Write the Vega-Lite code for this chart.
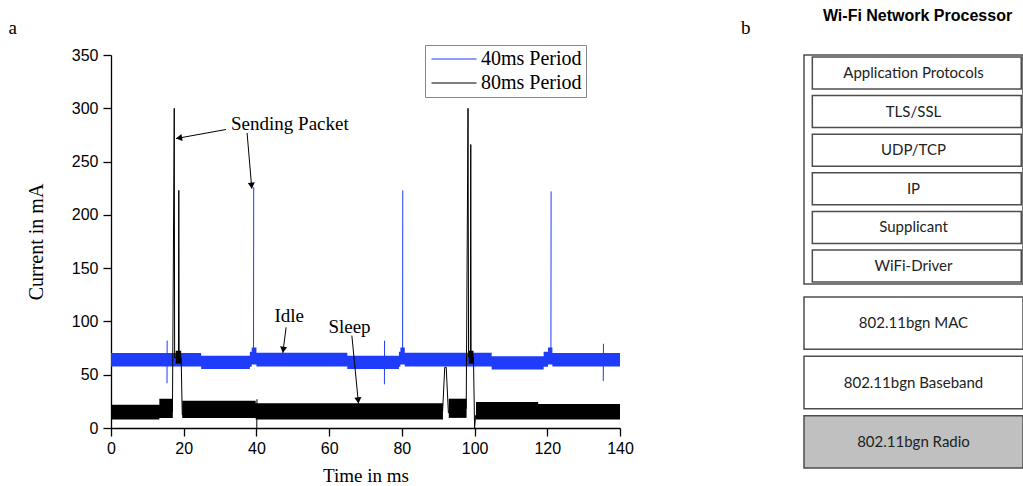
{
  "$schema": "https://vega.github.io/schema/vega-lite/v6.json",
  "background": "white",
  "padding": {"left": 8, "top": 7, "right": 0, "bottom": 0},
  "autosize": {"type": "pad"},
  "bounds": "flush",
  "spacing": 184,
  "config": {
    "view": {"stroke": null},
    "axis": {
      "labelFont": "Liberation Sans", "labelFontSize": 16, "labelColor": "black",
      "titleFont": "Liberation Serif", "titleFontSize": 20, "titleFontWeight": "normal", "titleColor": "black",
      "domainColor": "black", "domainWidth": 1.3, "tickColor": "black", "tickWidth": 1.3,
      "grid": false, "labelFlush": false, "labelOverlap": false, "labelPadding": 4, "tickSize": 8
    }
  },
  "datasets": {
    "blueTrace": [
      {"series": "40ms Period", "seg": "b1", "t": 15.4, "v": 42}, {"series": "40ms Period", "seg": "b1", "t": 15.45, "v": 82},
      {"series": "40ms Period", "seg": "b2", "t": 39.2, "v": 70}, {"series": "40ms Period", "seg": "b2", "t": 39.25, "v": 226},
      {"series": "40ms Period", "seg": "b3", "t": 75.2, "v": 41}, {"series": "40ms Period", "seg": "b3", "t": 75.25, "v": 82},
      {"series": "40ms Period", "seg": "b4", "t": 80.2, "v": 70}, {"series": "40ms Period", "seg": "b4", "t": 80.25, "v": 223},
      {"series": "40ms Period", "seg": "b5", "t": 121.0, "v": 70}, {"series": "40ms Period", "seg": "b5", "t": 121.05, "v": 222},
      {"series": "40ms Period", "seg": "b6", "t": 135.4, "v": 44}, {"series": "40ms Period", "seg": "b6", "t": 135.45, "v": 79}
    ],
    "blueBand": [
      {"series": "40ms Period", "t": 0, "lo": 57.8, "hi": 70.3},
      {"series": "40ms Period", "t": 24.8, "lo": 55.3, "hi": 67.8},
      {"series": "40ms Period", "t": 38.2, "lo": 57.5, "hi": 71.5},
      {"series": "40ms Period", "t": 38.7, "lo": 59.5, "hi": 75.5},
      {"series": "40ms Period", "t": 40, "lo": 57.8, "hi": 70.5},
      {"series": "40ms Period", "t": 65, "lo": 55.3, "hi": 67.8},
      {"series": "40ms Period", "t": 79.2, "lo": 57.5, "hi": 71.5},
      {"series": "40ms Period", "t": 79.6, "lo": 59.5, "hi": 75.5},
      {"series": "40ms Period", "t": 80.8, "lo": 57.8, "hi": 70.5},
      {"series": "40ms Period", "t": 104.7, "lo": 55, "hi": 67.3},
      {"series": "40ms Period", "t": 119, "lo": 57.5, "hi": 71.5},
      {"series": "40ms Period", "t": 120.2, "lo": 59.5, "hi": 75.5},
      {"series": "40ms Period", "t": 121.4, "lo": 57.8, "hi": 70.3},
      {"series": "40ms Period", "t": 140, "lo": 57.8, "hi": 70.3}
    ],
    "blackBand": [
      {"series": "80ms Period", "seg": "k1", "t": 0, "lo": 8, "hi": 21.8},
      {"series": "80ms Period", "seg": "k1", "t": 13.3, "lo": 9.5, "hi": 27.5},
      {"series": "80ms Period", "seg": "k1", "t": 17.0, "lo": 9.5, "hi": 27.5},
      {"series": "80ms Period", "seg": "k2", "t": 17.8, "lo": 60.5, "hi": 72.5},
      {"series": "80ms Period", "seg": "k2", "t": 19.3, "lo": 60.5, "hi": 72.5},
      {"series": "80ms Period", "seg": "k3", "t": 19.6, "lo": 9.5, "hi": 25.5},
      {"series": "80ms Period", "seg": "k3", "t": 39.8, "lo": 8, "hi": 23.2},
      {"series": "80ms Period", "seg": "k3", "t": 91.3, "lo": 8, "hi": 23.2},
      {"series": "80ms Period", "seg": "k4", "t": 92.9, "lo": 9.5, "hi": 27.5},
      {"series": "80ms Period", "seg": "k4", "t": 97.8, "lo": 9.5, "hi": 27.5},
      {"series": "80ms Period", "seg": "k5", "t": 98.4, "lo": 60.5, "hi": 72.5},
      {"series": "80ms Period", "seg": "k5", "t": 99.7, "lo": 60.5, "hi": 72.5},
      {"series": "80ms Period", "seg": "k6", "t": 100.4, "lo": 8, "hi": 24.5},
      {"series": "80ms Period", "seg": "k6", "t": 117.5, "lo": 8, "hi": 22.5},
      {"series": "80ms Period", "seg": "k6", "t": 140, "lo": 8, "hi": 22.5}
    ],
    "blackTrace": [
      {"series": "80ms Period", "seg": "s1", "t": 16.9, "v": 15},
      {"series": "80ms Period", "seg": "s1", "t": 17.4, "v": 300},
      {"series": "80ms Period", "seg": "s1", "t": 17.5, "v": 66},
      {"series": "80ms Period", "seg": "s1", "t": 18.55, "v": 66},
      {"series": "80ms Period", "seg": "s1", "t": 18.65, "v": 223},
      {"series": "80ms Period", "seg": "s1", "t": 18.75, "v": 66},
      {"series": "80ms Period", "seg": "s1", "t": 19.3, "v": 66},
      {"series": "80ms Period", "seg": "s1", "t": 19.6, "v": 12},
      {"series": "80ms Period", "seg": "s2", "t": 40.1, "v": 0},
      {"series": "80ms Period", "seg": "s2", "t": 40.15, "v": 27},
      {"series": "80ms Period", "seg": "s3", "t": 91.2, "v": 15},
      {"series": "80ms Period", "seg": "s3", "t": 91.8, "v": 57},
      {"series": "80ms Period", "seg": "s3", "t": 92.2, "v": 57},
      {"series": "80ms Period", "seg": "s3", "t": 92.8, "v": 14},
      {"series": "80ms Period", "seg": "s4", "t": 97.7, "v": 18},
      {"series": "80ms Period", "seg": "s4", "t": 98.2, "v": 300},
      {"series": "80ms Period", "seg": "s4", "t": 98.35, "v": 66},
      {"series": "80ms Period", "seg": "s4", "t": 98.85, "v": 66},
      {"series": "80ms Period", "seg": "s4", "t": 98.95, "v": 266},
      {"series": "80ms Period", "seg": "s4", "t": 99.05, "v": 66},
      {"series": "80ms Period", "seg": "s4", "t": 99.7, "v": 66},
      {"series": "80ms Period", "seg": "s4", "t": 100.0, "v": 0},
      {"series": "80ms Period", "seg": "s4", "t": 100.3, "v": 12}
    ],
    "arrows": [
      {"id": "A1", "t1": 31.65, "v1": 280.1, "t2": 17.89, "v2": 271.6},
      {"id": "A2", "t1": 37.43, "v1": 276.9, "t2": 38.73, "v2": 224.6},
      {"id": "A3", "t1": 48.17, "v1": 94.5, "t2": 47.26, "v2": 70.5},
      {"id": "A4", "t1": 66.25, "v1": 86.7, "t2": 68.07, "v2": 23}
    ],
    "heads": [
      {"id": "A1", "t": 18.7, "v": 272.1},
      {"id": "A2", "t": 38.66, "v": 227.4},
      {"id": "A3", "t": 47.37, "v": 73.4},
      {"id": "A4", "t": 67.99, "v": 25.8}
    ],
    "notes": [
      {"label": "Sending Packet", "t": 49.2, "v": 285.5},
      {"label": "Idle", "t": 49.0, "v": 105},
      {"label": "Sleep", "t": 65.6, "v": 94.5}
    ]
  },
  "hconcat": [
    {
      "width": 509,
      "height": 373,
      "layer": [
        {
          "data": {"name": "blueTrace"},
          "mark": {"type": "line", "strokeWidth": 1},
          "encoding": {
            "x": {"field": "t", "type": "quantitative", "title": "Time in ms",
              "scale": {"domain": [0, 140], "nice": false, "zero": false},
              "axis": {"values": [0, 10, 20, 30, 40, 50, 60, 70, 80, 90, 100, 110, 120, 130, 140],
                "labelExpr": "datum.value % 20 === 0 ? datum.label : ''", "titlePadding": 10, "titleFontSize": 19}},
            "y": {"field": "v", "type": "quantitative", "title": "Current in mA",
              "scale": {"domain": [0, 350], "nice": false},
              "axis": {"values": [0, 25, 50, 75, 100, 125, 150, 175, 200, 225, 250, 275, 300, 325, 350],
                "labelExpr": "datum.value % 50 === 0 ? datum.label : ''", "labelPadding": 5, "titlePadding": 25}},
            "color": {"field": "series", "type": "nominal",
              "scale": {"domain": ["40ms Period", "80ms Period"], "range": ["#1e3cfa", "#000000"]},
              "legend": {"title": null, "orient": "none", "legendX": 314, "legendY": -10, "direction": "vertical",
                "symbolType": "M-3,0H3", "symbolSize": 225, "symbolStrokeWidth": 1, "symbolOffset": 15,
                "labelOffset": 17, "labelFont": "Liberation Serif", "labelFontSize": 20, "labelColor": "black",
                "padding": 4, "rowPadding": 4, "strokeColor": "#888888", "fillColor": "white", "labelLimit": 300}},
            "detail": {"field": "seg"}
          }
        },
        {
          "data": {"name": "blueBand"},
          "mark": {"type": "area", "interpolate": "step-after"},
          "encoding": {
            "x": {"field": "t", "type": "quantitative", "title": "Time in ms"},
            "y": {"field": "lo", "type": "quantitative", "title": "Current in mA"},
            "y2": {"field": "hi"},
            "color": {"field": "series", "type": "nominal"}
          }
        },
        {
          "data": {"name": "blackBand"},
          "mark": {"type": "area", "interpolate": "step-after"},
          "encoding": {
            "x": {"field": "t", "type": "quantitative", "title": "Time in ms"},
            "y": {"field": "lo", "type": "quantitative", "title": "Current in mA"},
            "y2": {"field": "hi"},
            "color": {"field": "series", "type": "nominal"},
            "detail": {"field": "seg"}
          }
        },
        {
          "data": {"name": "blackTrace"},
          "mark": {"type": "line", "strokeWidth": 1},
          "encoding": {
            "x": {"field": "t", "type": "quantitative", "title": "Time in ms"},
            "y": {"field": "v", "type": "quantitative", "title": "Current in mA"},
            "color": {"field": "series", "type": "nominal"},
            "detail": {"field": "seg"}
          }
        },
        {
          "data": {"name": "arrows"},
          "mark": {"type": "rule", "color": "black", "strokeWidth": 1},
          "encoding": {
            "x": {"field": "t1", "type": "quantitative", "title": "Time in ms"},
            "y": {"field": "v1", "type": "quantitative", "title": "Current in mA"},
            "x2": {"field": "t2"},
            "y2": {"field": "v2"}
          }
        },
        {
          "data": {"name": "heads"},
          "transform": [{"filter": "datum.id === 'A1'"}],
          "mark": {"type": "point", "shape": "triangle-up", "filled": true, "color": "black", "opacity": 1, "size": 50, "angle": 260},
          "encoding": {
            "x": {"field": "t", "type": "quantitative", "title": "Time in ms"},
            "y": {"field": "v", "type": "quantitative", "title": "Current in mA"}
          }
        },
        {
          "data": {"name": "heads"},
          "transform": [{"filter": "datum.id === 'A2'"}],
          "mark": {"type": "point", "shape": "triangle-up", "filled": true, "color": "black", "opacity": 1, "size": 50, "angle": 175},
          "encoding": {
            "x": {"field": "t", "type": "quantitative", "title": "Time in ms"},
            "y": {"field": "v", "type": "quantitative", "title": "Current in mA"}
          }
        },
        {
          "data": {"name": "heads"},
          "transform": [{"filter": "datum.id === 'A3'"}],
          "mark": {"type": "point", "shape": "triangle-up", "filled": true, "color": "black", "opacity": 1, "size": 50, "angle": 187},
          "encoding": {
            "x": {"field": "t", "type": "quantitative", "title": "Time in ms"},
            "y": {"field": "v", "type": "quantitative", "title": "Current in mA"}
          }
        },
        {
          "data": {"name": "heads"},
          "transform": [{"filter": "datum.id === 'A4'"}],
          "mark": {"type": "point", "shape": "triangle-up", "filled": true, "color": "black", "opacity": 1, "size": 50, "angle": 174},
          "encoding": {
            "x": {"field": "t", "type": "quantitative", "title": "Time in ms"},
            "y": {"field": "v", "type": "quantitative", "title": "Current in mA"}
          }
        },
        {
          "data": {"name": "notes"},
          "mark": {"type": "text", "font": "Liberation Serif", "fontSize": 19, "color": "black", "align": "center", "baseline": "middle"},
          "encoding": {
            "x": {"field": "t", "type": "quantitative", "title": "Time in ms"},
            "y": {"field": "v", "type": "quantitative", "title": "Current in mA"},
            "text": {"field": "label"}
          }
        },
        {
          "data": {"values": [{"label": "a"}]},
          "mark": {"type": "text", "font": "Liberation Serif", "fontSize": 19, "color": "black", "align": "center", "baseline": "middle"},
          "encoding": {
            "x": {"datum": -27, "type": "quantitative"},
            "y": {"datum": 375, "type": "quantitative"},
            "text": {"field": "label"}
          }
        }
      ]
    },
    {
      "vconcat": [
        {
          "width": 219,
          "height": 229,
          "view": {"stroke": "#4d4d4d", "strokeWidth": 1.5},
          "title": {"text": "Wi-Fi Network Processor", "font": "Liberation Sans", "fontSize": 16, "fontWeight": "bold", "color": "black",
            "anchor": "middle", "frame": "group", "offset": -5, "dx": 4},
          "data": {"values": [
            {"layer": "Application Protocols"}, {"layer": "TLS/SSL"}, {"layer": "UDP/TCP"},
            {"layer": "IP"}, {"layer": "Supplicant"}, {"layer": "WiFi-Driver"}
          ]},
          "layer": [
            {
              "mark": {"type": "bar", "fill": "white", "stroke": "#4d4d4d", "strokeWidth": 1.5},
              "encoding": {
                "y": {"field": "layer", "type": "nominal", "axis": null,
                  "scale": {"domain": ["Application Protocols", "TLS/SSL", "UDP/TCP", "IP", "Supplicant", "WiFi-Driver"], "paddingInner": 0.17, "paddingOuter": 0.05}},
                "x": {"datum": 0.038, "type": "quantitative", "scale": {"domain": [0, 1]}, "axis": null},
                "x2": {"datum": 0.992}
              }
            },
            {
              "mark": {"type": "text", "font": "Lato", "fontSize": 15, "color": "#222222"},
              "encoding": {
                "y": {"field": "layer", "type": "nominal"},
                "x": {"datum": 0.5, "type": "quantitative"},
                "text": {"field": "layer"}
              }
            },
            {
              "data": {"values": [{"label": "b"}]},
              "mark": {"type": "text", "font": "Liberation Serif", "fontSize": 19, "color": "black", "align": "center", "baseline": "middle", "dy": -45},
              "encoding": {
                "x": {"datum": -0.266, "type": "quantitative"},
                "y": {"datum": "Application Protocols", "type": "nominal"},
                "text": {"field": "label"}
              }
            }
          ]
        },
        {
          "width": 219,
          "height": 171,
          "data": {"values": [
            {"layer": "802.11bgn MAC"}, {"layer": "802.11bgn Baseband"}, {"layer": "802.11bgn Radio"}
          ]},
          "layer": [
            {
              "mark": {"type": "bar", "stroke": "#4d4d4d", "strokeWidth": 1.5},
              "encoding": {
                "y": {"field": "layer", "type": "nominal", "axis": null,
                  "scale": {"domain": ["802.11bgn MAC", "802.11bgn Baseband", "802.11bgn Radio"], "paddingInner": 0.117, "paddingOuter": 0}},
                "x": {"datum": 0, "type": "quantitative", "scale": {"domain": [0, 1]}, "axis": null},
                "x2": {"datum": 1},
                "fill": {"condition": {"test": "datum.layer === '802.11bgn Radio'", "value": "#c0c0c0"}, "value": "white"}
              }
            },
            {
              "mark": {"type": "text", "font": "Lato", "fontSize": 15, "color": "#222222"},
              "encoding": {
                "y": {"field": "layer", "type": "nominal"},
                "x": {"datum": 0.5, "type": "quantitative"},
                "text": {"field": "layer"}
              }
            }
          ]
        }
      ],
      "spacing": 13,
      "bounds": "flush"
    }
  ]
}
